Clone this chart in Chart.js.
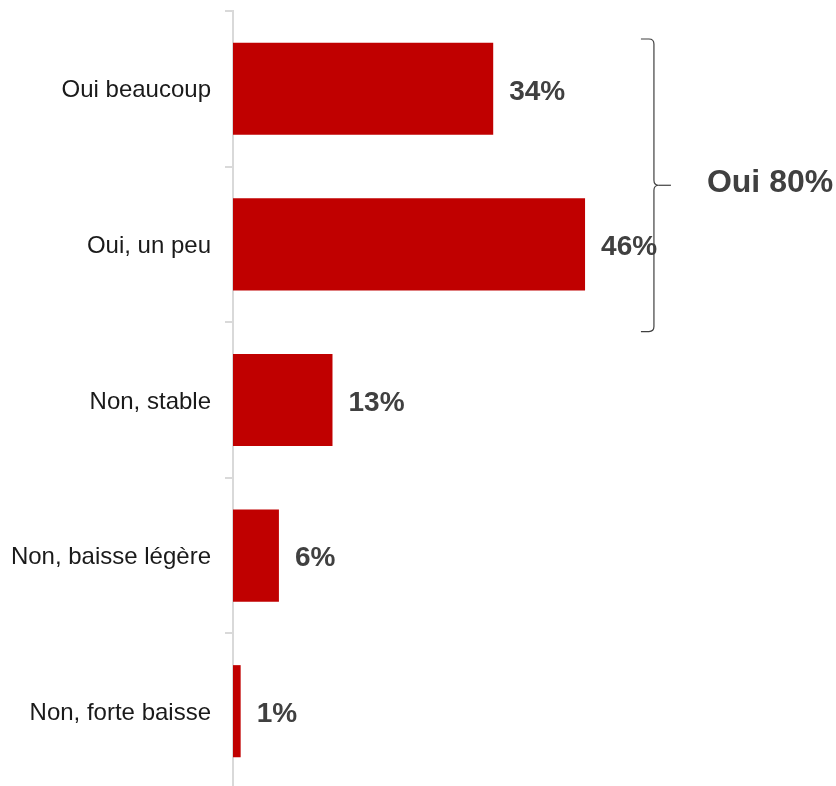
<!DOCTYPE html>
<html lang="fr">
<head>
<meta charset="utf-8">
<title>Oui 80%</title>
<script src="https://cdn.jsdelivr.net/npm/chart.js@4/dist/chart.umd.min.js"></script>
<style>
  html, body { margin: 0; padding: 0; background: #fff; overflow: hidden; }
  #wrap { width: 836px; height: 789px; position: relative; }
</style>
</head>
<body>
<div id="wrap"><canvas id="chart"></canvas></div>
<script>
// --- DATA ---
const categories = ['Oui beaucoup', 'Oui, un peu', 'Non, stable', 'Non, baisse légère', 'Non, forte baisse'];
const values = [34, 46, 13, 6, 1];
const groupLabel = 'Oui 80%';
const groupIndexes = [0, 1]; // bars covered by the bracket

const barColor = '#c00000';
const textColor = '#404040';
const axisColor = '#d9d9d9';

// value labels at the end of every bar
const valueLabels = {
    id: 'valueLabels',
    afterDatasetsDraw(chart) {
        const ctx = chart.ctx;
        const meta = chart.getDatasetMeta(0);
        ctx.save();
        ctx.font = 'bold 28px "Liberation Sans", Arial, sans-serif';
        ctx.fillStyle = textColor;
        ctx.textAlign = 'left';
        ctx.textBaseline = 'middle';
        meta.data.forEach((bar, i) => {
            ctx.fillText(values[i] + '%', bar.x + 16, bar.y + 3);
        });
        ctx.restore();
    }
};

// curly bracket grouping the "Oui" answers
const bracket = {
    id: 'bracket',
    afterDraw(chart) {
        const ctx = chart.ctx;
        const x = chart.scales.x;
        const y = chart.scales.y;
        const band = y.getPixelForValue(1) - y.getPixelForValue(0);
        const top = y.getPixelForValue(groupIndexes[0]) - band * 0.32;
        const bottom = y.getPixelForValue(groupIndexes[1]) + band * 0.56;
        const mid = (top + bottom) / 2;
        const bx = x.getPixelForValue(55);
        const r = 5;

        ctx.save();
        ctx.strokeStyle = textColor;
        ctx.lineWidth = 1.2;
        ctx.beginPath();
        ctx.moveTo(bx - 13, top);
        ctx.lineTo(bx - r, top);
        ctx.quadraticCurveTo(bx, top, bx, top + r);
        ctx.lineTo(bx, mid - r);
        ctx.quadraticCurveTo(bx, mid, bx + r, mid);
        ctx.quadraticCurveTo(bx, mid, bx, mid + r);
        ctx.lineTo(bx, bottom - r);
        ctx.quadraticCurveTo(bx, bottom, bx - r, bottom);
        ctx.lineTo(bx - 13, bottom);
        ctx.stroke();

        ctx.beginPath();
        ctx.moveTo(bx + r, mid);
        ctx.lineTo(bx + 17, mid);
        ctx.stroke();

        ctx.font = 'bold 32px "Liberation Sans", Arial, sans-serif';
        ctx.fillStyle = textColor;
        ctx.textAlign = 'left';
        ctx.textBaseline = 'middle';
        ctx.fillText(groupLabel, bx + 53, mid - 2);
        ctx.restore();
    }
};

const config = {
    type: 'bar',
    data: {
        labels: categories,
        datasets: [{
            data: values,
            backgroundColor: barColor,
            borderWidth: 0,
            barPercentage: 0.592,
            categoryPercentage: 1
        }]
    },
    options: {
        indexAxis: 'y',
        responsive: true,
        maintainAspectRatio: false,
        animation: false,
        layout: { padding: { top: 11, right: 29, bottom: 0, left: 0 } },
        scales: {
            x: {
                display: false,
                min: 0,
                max: 75
            },
            y: {
                afterFit(scale) {
                    scale.width = 233;
                    scale.paddingTop = 0;
                    scale.paddingBottom = 0;
                },
                grid: {
                    drawOnChartArea: false,
                    drawTicks: true,
                    tickLength: 8,
                    color: axisColor,
                    lineWidth: 2
                },
                border: { color: axisColor, width: 2 },
                ticks: {
                    padding: 14,
                    labelOffset: 2,
                    color: '#1a1a1a',
                    font: { family: '"Liberation Sans", Arial, sans-serif', size: 24 }
                }
            }
        },
        plugins: {
            legend: { display: false },
            tooltip: { enabled: false }
        }
    },
    plugins: [valueLabels, bracket]
};

new Chart(document.getElementById('chart').getContext('2d'), config);
</script>
</body>
</html>
